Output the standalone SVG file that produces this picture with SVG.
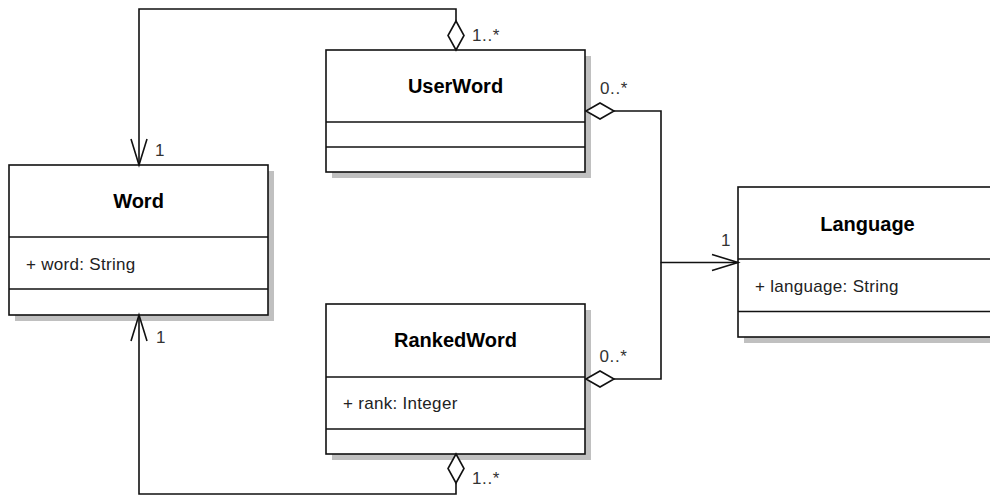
<svg xmlns="http://www.w3.org/2000/svg" width="990" height="496" viewBox="0 0 990 496">
  <style>
    .shadow { fill: #c0c0c0; stroke: none; }
    .box { fill: #ffffff; stroke: #111111; stroke-width: 1.6; }
    .sep { stroke: #111111; stroke-width: 1.6; fill: none; }
    .title { font-family: "Liberation Sans", Arial, sans-serif; font-size: 20px; font-weight: bold; fill: #000000; text-anchor: middle; }
    .attr { font-family: "Liberation Sans", Arial, sans-serif; font-size: 17px; fill: #222222; letter-spacing: 0.3px; }
    .mult { font-family: "Liberation Sans", Arial, sans-serif; font-size: 17px; fill: #333333; letter-spacing: 0.6px; }
    .line { fill: none; stroke: #111111; stroke-width: 1.6; }
    .diamond { fill: #ffffff; stroke: #111111; stroke-width: 1.6; stroke-linejoin: miter; }
    .open { fill: none; stroke: #111111; stroke-width: 1.6; stroke-linejoin: miter; }
  </style>

  <!-- Word class -->
  <g id="word">
    <rect class="shadow" x="15" y="171" width="259" height="150"/>
    <rect class="box" x="9" y="165" width="259" height="150"/>
    <line class="sep" x1="9" y1="237" x2="268" y2="237"/>
    <line class="sep" x1="9" y1="289" x2="268" y2="289"/>
    <text class="title" x="138.5" y="207.5">Word</text>
    <text class="attr" x="26" y="270">+ word: String</text>
  </g>

  <!-- UserWord class -->
  <g id="userword">
    <rect class="shadow" x="332" y="56" width="259" height="122"/>
    <rect class="box" x="326" y="50" width="259" height="122"/>
    <line class="sep" x1="326" y1="122" x2="585" y2="122"/>
    <line class="sep" x1="326" y1="147" x2="585" y2="147"/>
    <text class="title" x="455.5" y="92.5">UserWord</text>
  </g>

  <!-- RankedWord class -->
  <g id="rankedword">
    <rect class="shadow" x="332" y="310" width="259" height="150"/>
    <rect class="box" x="326" y="304" width="259" height="150"/>
    <line class="sep" x1="326" y1="377" x2="585" y2="377"/>
    <line class="sep" x1="326" y1="429" x2="585" y2="429"/>
    <text class="title" x="455.5" y="346.5">RankedWord</text>
    <text class="attr" x="343" y="408.5">+ rank: Integer</text>
  </g>

  <!-- Language class -->
  <g id="language">
    <rect class="shadow" x="744" y="193" width="259" height="150"/>
    <rect class="box" x="738" y="187" width="259" height="150"/>
    <line class="sep" x1="738" y1="259" x2="997" y2="259"/>
    <line class="sep" x1="738" y1="311.5" x2="997" y2="311.5"/>
    <text class="title" x="867.5" y="230.5">Language</text>
    <text class="attr" x="755" y="291.5">+ language: String</text>
  </g>

  <!-- Associations -->
  <g id="connectors">
    <!-- UserWord to Word -->
    <polyline class="line" points="456,21 456,9 139,9 139,165"/>
    <polygon class="diamond" points="456,21 464,35.5 456,50 448,35.5"/>
    <polyline class="open" points="131,139 139,165 147,139"/>
    <text class="mult" x="472" y="40.5">1..*</text>
    <text class="mult" x="155" y="156">1</text>

    <!-- RankedWord to Word -->
    <polyline class="line" points="456,483 456,494 139,494 139,315"/>
    <polygon class="diamond" points="456,454 464,468.5 456,483 448,468.5"/>
    <polyline class="open" points="131,341 139,315 147,341"/>
    <text class="mult" x="472" y="483.5">1..*</text>
    <text class="mult" x="156" y="343">1</text>

    <!-- UserWord to Language -->
    <polyline class="line" points="614,111 661,111 661,262.5 738,262.5"/>
    <polygon class="diamond" points="586,111 600,103 614,111 600,119"/>
    <polyline class="open" points="712,254.5 738,262.5 712,270.5"/>
    <text class="mult" x="600" y="93.5">0..*</text>
    <text class="mult" x="721" y="245.5">1</text>

    <!-- RankedWord to Language -->
    <polyline class="line" points="614,379 661,379 661,262.5"/>
    <polygon class="diamond" points="586,379 600,371 614,379 600,387"/>
    <text class="mult" x="599.5" y="362">0..*</text>
  </g>
</svg>
